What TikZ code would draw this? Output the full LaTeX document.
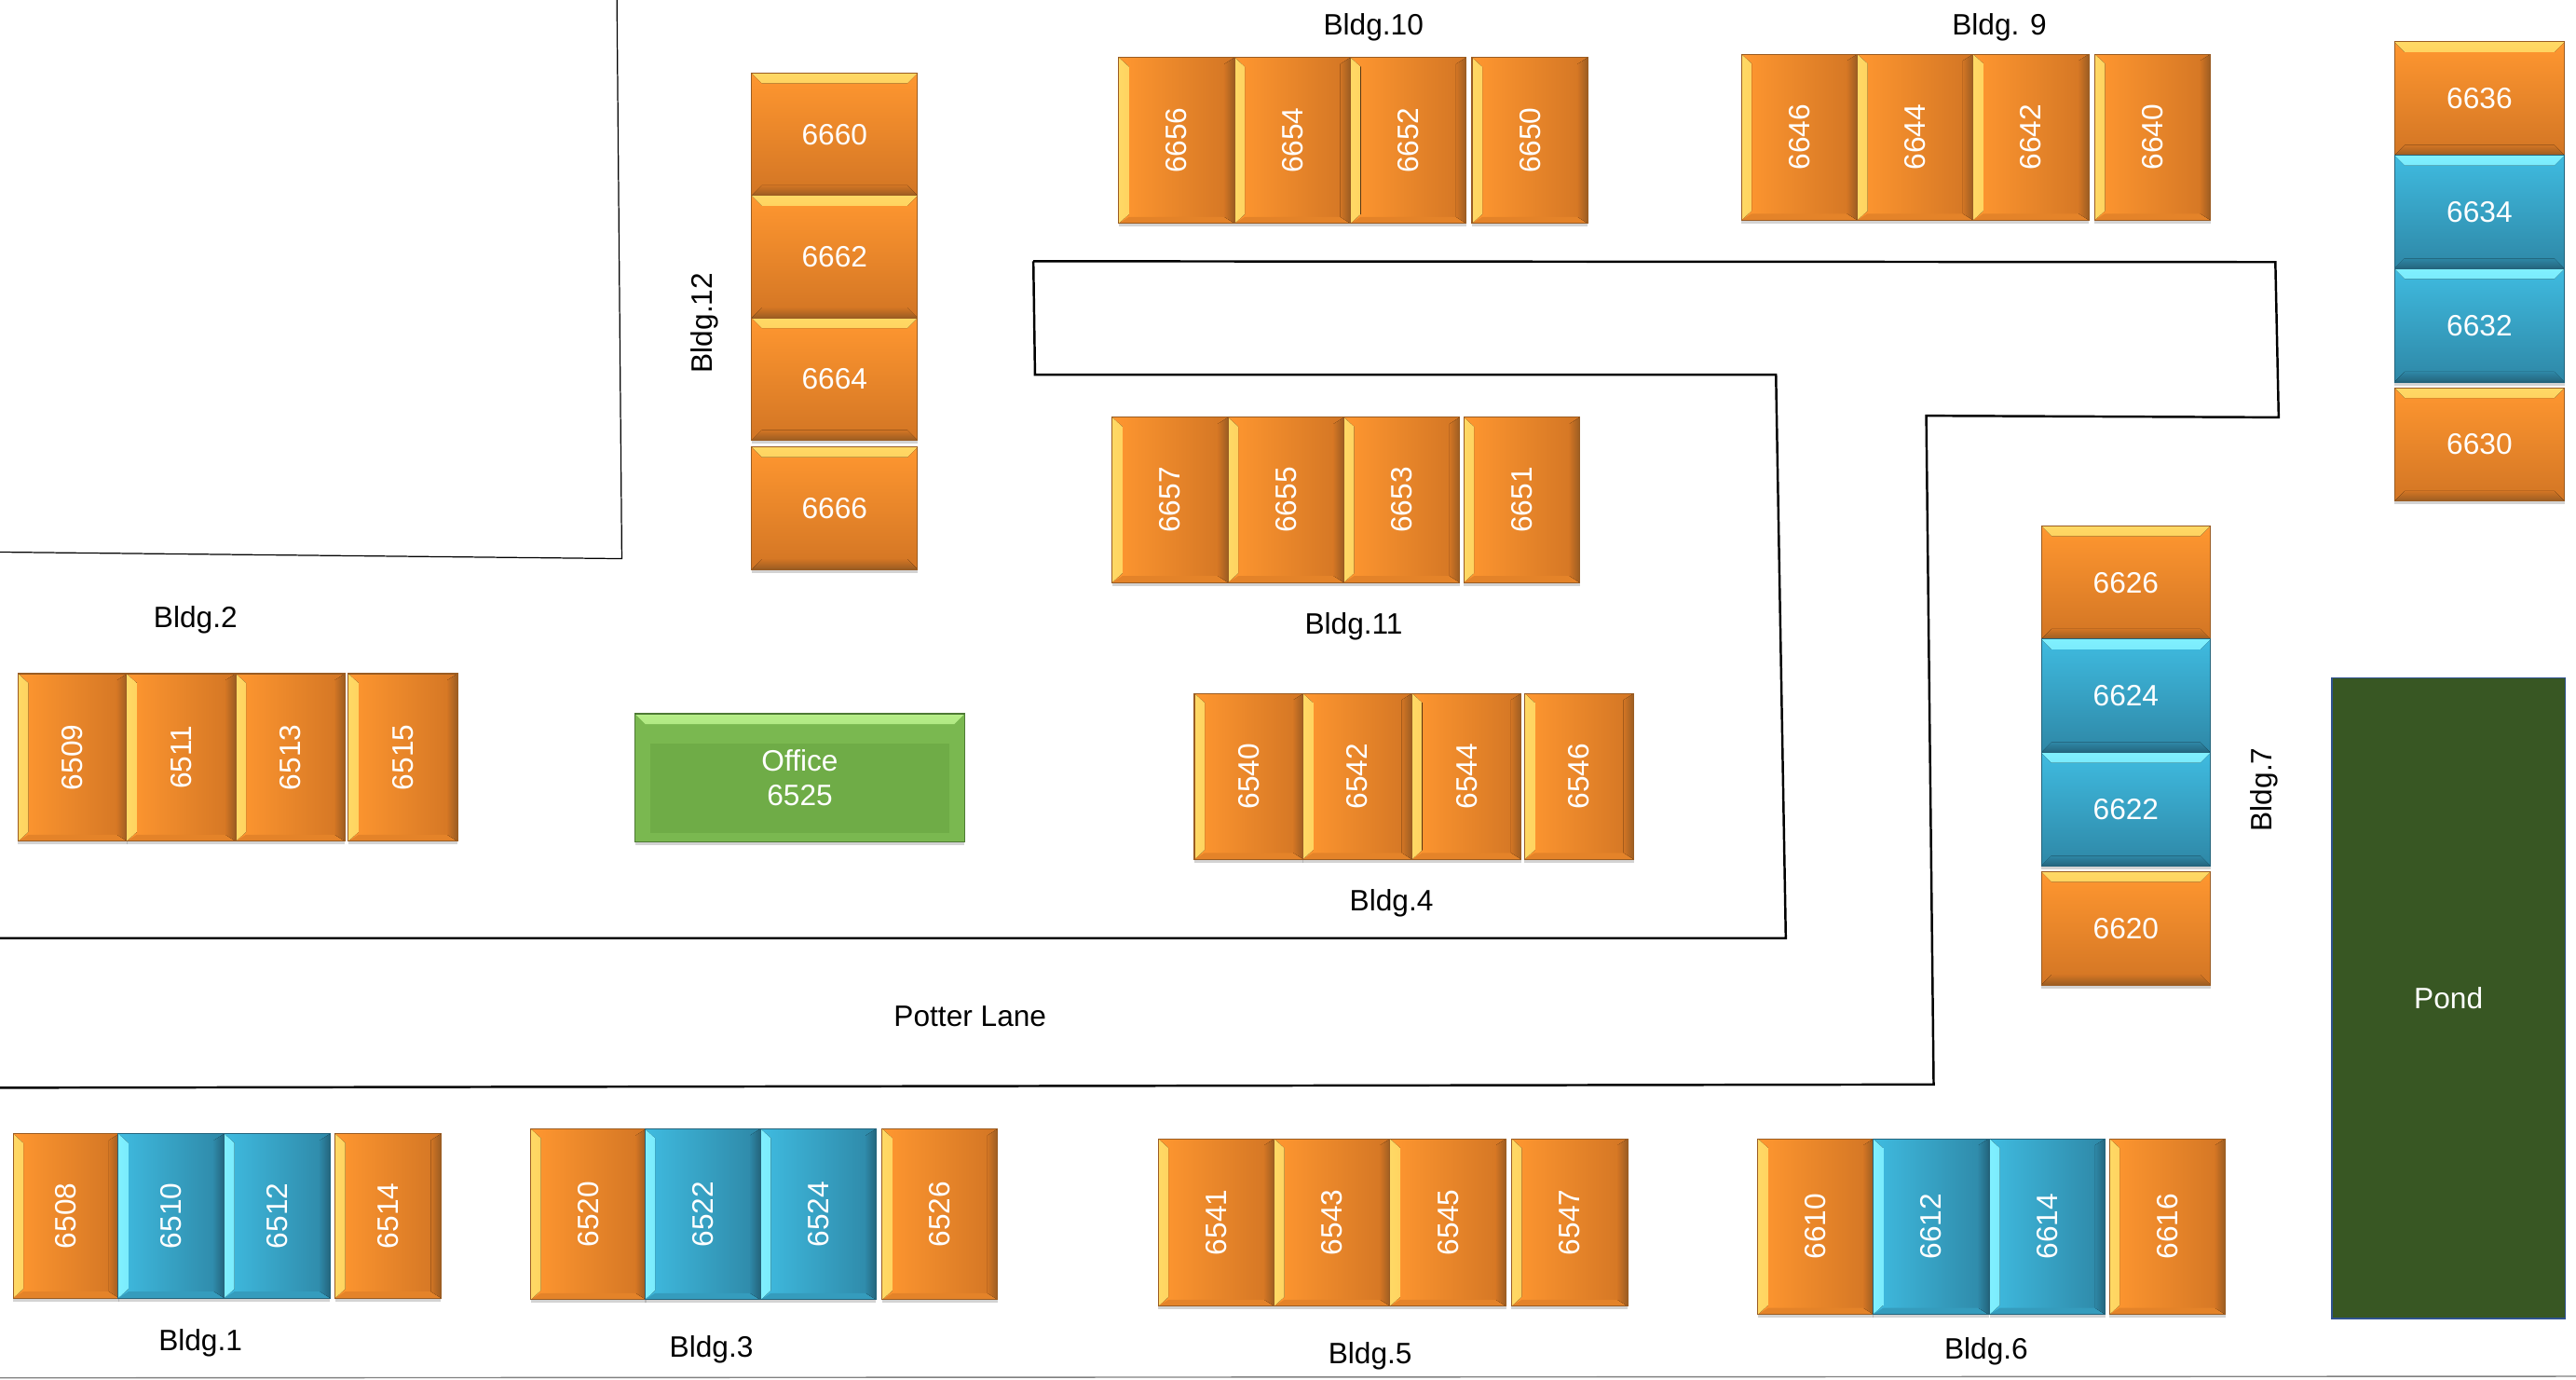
\documentclass[tikz,border=0pt]{standalone}
\usepackage{fontspec}
\setmainfont{Liberation Sans}
\usetikzlibrary{shadows}

\definecolor{orLight}{HTML}{FFD965}
\definecolor{orBase}{HTML}{FF9730}
\definecolor{orDark}{HTML}{D27524}
\definecolor{orEdge}{HTML}{9A5C22}
\definecolor{blLight}{HTML}{80F0FF}
\definecolor{blBase}{HTML}{3FBBE0}
\definecolor{blDark}{HTML}{2E87A6}
\definecolor{blEdge}{HTML}{24647C}
\definecolor{grLight}{HTML}{B6EE88}
\definecolor{grBase}{HTML}{7AB850}
\definecolor{grInner}{HTML}{6FAC47}
\definecolor{grEdge}{HTML}{4E7A35}
\definecolor{pondGreen}{HTML}{385723}
\definecolor{pondEdge}{HTML}{2F528F}

% bevel strips, light side left
\newcommand{\bevelLeft}[4]{
  \fill[left color=#1,right color=#2] (path picture bounding box.north west) -- ([xshift=1.1mm,yshift=-1mm]path picture bounding box.north west) -- ([xshift=1.1mm,yshift=1mm]path picture bounding box.south west) -- (path picture bounding box.south west) -- cycle;
  \fill[#3!60!#2] (path picture bounding box.south west) -- ([xshift=1.1mm,yshift=.7mm]path picture bounding box.south west) -- ([xshift=-1.1mm,yshift=.7mm]path picture bounding box.south east) -- (path picture bounding box.south east) -- cycle;
  \fill[left color=#3,right color=#4] ([xshift=-1.1mm,yshift=.7mm]path picture bounding box.south east) -- ([xshift=-1.1mm,yshift=-.7mm]path picture bounding box.north east) -- (path picture bounding box.north east) -- (path picture bounding box.south east) -- cycle;
}
% bevel strips, light side top
\newcommand{\bevelTop}[4]{
  \fill[top color=#1,bottom color=#2] (path picture bounding box.north west) -- ([xshift=1.1mm,yshift=-1.1mm]path picture bounding box.north west) -- ([xshift=-1.1mm,yshift=-1.1mm]path picture bounding box.north east) -- (path picture bounding box.north east) -- cycle;
  \fill[top color=#3,bottom color=#4] ([xshift=1.1mm,yshift=1.1mm]path picture bounding box.south west) -- ([xshift=-1.1mm,yshift=1.1mm]path picture bounding box.south east) -- (path picture bounding box.south east) -- (path picture bounding box.south west) -- cycle;
}

\tikzset{
  room size/.style 2 args={minimum width=#1*0.01763cm,minimum height=#2*0.01763cm},
  room node/.style={anchor=north west,inner sep=0pt,outer sep=0pt,text=white,align=center,
    font=\fontsize{9}{10.4}\selectfont,drop shadow={shadow xshift=0pt,shadow yshift=-1pt,opacity=.35}},
  orange v/.style={room node,draw=orEdge,line width=.3pt,left color=orBase,middle color=orBase!85!orDark,right color=orDark,
    path picture={\bevelLeft{orLight}{orBase}{orDark}{orEdge}}},
  blue v/.style={room node,draw=blEdge,line width=.3pt,left color=blBase,middle color=blBase!70!blDark,right color=blDark,
    path picture={\bevelLeft{blLight}{blBase}{blDark}{blEdge}}},
  orange h/.style={room node,draw=orEdge,line width=.3pt,top color=orBase,middle color=orBase!85!orDark,bottom color=orDark,
    path picture={\bevelTop{orLight}{orBase}{orDark}{orEdge}}},
  blue h/.style={room node,draw=blEdge,line width=.3pt,top color=blBase,middle color=blBase!70!blDark,bottom color=blDark,
    path picture={\bevelTop{blLight}{blBase}{blDark}{blEdge}}},
  office node/.style={room node,draw=grEdge,line width=.3pt,fill=grBase,
    path picture={
      \fill[top color=grLight,bottom color=grBase] (path picture bounding box.north west) -- ([xshift=1.1mm,yshift=-1.1mm]path picture bounding box.north west) -- ([xshift=-1.1mm,yshift=-1.1mm]path picture bounding box.north east) -- (path picture bounding box.north east) -- cycle;
      \fill[grInner] ([xshift=1.6mm,yshift=-3.2mm]path picture bounding box.north west) rectangle ([xshift=-1.6mm,yshift=1mm]path picture bounding box.south east);
    }},
  bldg1/.style={room size={64.5}{100}},
  bldg2/.style={room size={66.5}{102}},
  bldg3/.style={room size={70.3}{104}},
  bldg4/.style={room size={66.5}{101}},
  bldg5/.style={room size={70.8}{102}},
  bldg6/.style={room size={70.5}{107}},
  bldg7/.style={room size={103}{69}},
  bldg8/.style={room size={103.5}{69}},
  bldg9/.style={room size={70.5}{101}},
  bldg10/.style={room size={70.5}{101}},
  bldg11/.style={room size={70.5}{100.5}},
  bldg12/.style={room size={101}{74.5}},
  bldg label/.style={inner sep=0pt,font=\fontsize{9}{10.4}\selectfont},
  road line/.style={black,line width=.7pt},
  lot line/.style={black,line width=.35pt}
}

\begin{document}
\begin{tikzpicture}[x=0.01763cm,y=-0.01763cm]
  \useasboundingbox (0,0) rectangle (1568,839.3);

  % lot and road
  \draw[lot line] (375.5,0) -- (378.5,340) -- (0,336);
  \draw[road line] (629,159) -- (1385,159.5) -- (1387,254) -- (1172.5,253) -- (1177,660) -- (0,662);
  \draw[road line] (629,159) -- (630,228) -- (1081,228) -- (1087,571) -- (0,571);
  \draw[gray,line width=.4pt] (0,838.6) -- (1568,837.6);

  % building 1
  \node[orange v,bldg1] (r6508) at (8,690) {\rotatebox{90}{6508}};
  \node[blue v,bldg1] (r6510) at (72,690) {\rotatebox{90}{6510}};
  \node[blue v,bldg1] (r6512) at (136.5,690) {\rotatebox{90}{6512}};
  \node[orange v,bldg1] (r6514) at (204,690) {\rotatebox{90}{6514}};
  \node[bldg label] (b1) at (122,817.5) {Bldg.1};

  % building 2
  \node[orange v,bldg2] (r6509) at (11,410) {\rotatebox{90}{6509}};
  \node[orange v,bldg2] (r6511) at (77,410) {\rotatebox{90}{6511}};
  \node[orange v,bldg2] (r6513) at (143.5,410) {\rotatebox{90}{6513}};
  \node[orange v,bldg2] (r6515) at (212,410) {\rotatebox{90}{6515}};
  \node[bldg label] (b2) at (119,377.5) {Bldg.2};

  % building 3
  \node[orange v,bldg3] (r6520) at (323,687) {\rotatebox{90}{6520}};
  \node[blue v,bldg3] (r6522) at (392.5,687) {\rotatebox{90}{6522}};
  \node[blue v,bldg3] (r6524) at (463,687) {\rotatebox{90}{6524}};
  \node[orange v,bldg3] (r6526) at (537,687) {\rotatebox{90}{6526}};
  \node[bldg label] (b3) at (433,821.5) {Bldg.3};

  % office
  \node[office node,room size={200.5}{78}] (office) at (386.6,434.4) {Office\\6525};

  % building 4
  \node[orange v,bldg4] (r6540) at (727,422) {\rotatebox{90}{6540}};
  \node[orange v,bldg4] (r6542) at (793,422) {\rotatebox{90}{6542}};
  \node[orange v,bldg4] (r6544) at (859.5,422) {\rotatebox{90}{6544}};
  \node[orange v,bldg4] (r6546) at (928,422) {\rotatebox{90}{6546}};
  \node[bldg label] (b4) at (847,549.5) {Bldg.4};

  % building 5
  \node[orange v,bldg5] (r6541) at (705,693) {\rotatebox{90}{6541}};
  \node[orange v,bldg5] (r6543) at (775.5,693) {\rotatebox{90}{6543}};
  \node[orange v,bldg5] (r6545) at (846,693) {\rotatebox{90}{6545}};
  \node[orange v,bldg5] (r6547) at (920,693) {\rotatebox{90}{6547}};
  \node[bldg label] (b5) at (834,825.5) {Bldg.5};

  % building 6
  \node[orange v,bldg6] (r6610) at (1070,693) {\rotatebox{90}{6610}};
  \node[blue v,bldg6] (r6612) at (1140,693) {\rotatebox{90}{6612}};
  \node[blue v,bldg6] (r6614) at (1211,693) {\rotatebox{90}{6614}};
  \node[orange v,bldg6] (r6616) at (1284,693) {\rotatebox{90}{6616}};
  \node[bldg label] (b6) at (1209,822.5) {Bldg.6};

  % building 7
  \node[orange h,bldg7] (r6626) at (1242.5,320) {6626};
  \node[blue h,bldg7] (r6624) at (1242.5,389) {6624};
  \node[blue h,bldg7] (r6622) at (1242.5,458) {6622};
  \node[orange h,bldg7] (r6620) at (1242.5,530.5) {6620};
  \node[bldg label,rotate=90] (b7) at (1378,480.5) {Bldg.7};

  % building 8
  \node[orange h,bldg8] (r6636) at (1457.5,25.5) {6636};
  \node[blue h,bldg8] (r6634) at (1457.5,94.5) {6634};
  \node[blue h,bldg8] (r6632) at (1457.5,163.5) {6632};
  \node[orange h,bldg8] (r6630) at (1457.5,236) {6630};

  % building 9
  \node[orange v,bldg9] (r6646) at (1060,33) {\rotatebox{90}{6646}};
  \node[orange v,bldg9] (r6644) at (1130.5,33) {\rotatebox{90}{6644}};
  \node[orange v,bldg9] (r6642) at (1201,33) {\rotatebox{90}{6642}};
  \node[orange v,bldg9] (r6640) at (1275,33) {\rotatebox{90}{6640}};
  \node[bldg label] (b9) at (1217,16.5) {Bldg. 9};

  % building 10
  \node[orange v,bldg10] (r6656) at (681,35) {\rotatebox{90}{6656}};
  \node[orange v,bldg10] (r6654) at (751.5,35) {\rotatebox{90}{6654}};
  \node[orange v,bldg10] (r6652) at (822,35) {\rotatebox{90}{6652}};
  \node[orange v,bldg10] (r6650) at (896,35) {\rotatebox{90}{6650}};
  \node[bldg label] (b10) at (836,16.5) {Bldg.10};

  % building 11
  \node[orange v,bldg11] (r6657) at (677,254) {\rotatebox{90}{6657}};
  \node[orange v,bldg11] (r6655) at (747.5,254) {\rotatebox{90}{6655}};
  \node[orange v,bldg11] (r6653) at (818,254) {\rotatebox{90}{6653}};
  \node[orange v,bldg11] (r6651) at (891,254) {\rotatebox{90}{6651}};
  \node[bldg label] (b11) at (824,381.5) {Bldg.11};

  % building 12
  \node[orange h,bldg12] (r6660) at (457.5,44.5) {6660};
  \node[orange h,bldg12] (r6662) at (457.5,119) {6662};
  \node[orange h,bldg12] (r6664) at (457.5,193.5) {6664};
  \node[orange h,bldg12] (r6666) at (457.5,272) {6666};
  \node[bldg label,rotate=90] (b12) at (429,196.5) {Bldg.12};

  % pond and lane
  \node[anchor=north west,draw=pondEdge,line width=.4pt,fill=pondGreen,text=white,inner sep=0pt,
    font=\fontsize{9}{10.4}\selectfont,room size={142}{390}] (pond) at (1419,412) {Pond};
  \node[bldg label] (lane) at (590.5,618.5) {Potter Lane};
\end{tikzpicture}
\end{document}
